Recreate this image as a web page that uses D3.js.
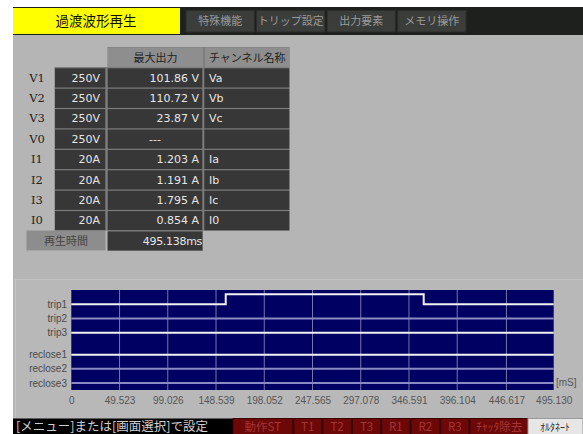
<!DOCTYPE html>
<html><head><meta charset="utf-8">
<script src="https://cdn.jsdelivr.net/npm/d3@7/dist/d3.min.js"></script>
<style>html,body{margin:0;padding:0;background:#fff;overflow:hidden}</style>
</head><body>
<svg id="c" width="583" height="434"></svg>
<script>
// ---- data ----
const channels = ["V1","V2","V3","V0","I1","I2","I3","I0"];
const ranges = ["250V","250V","250V","250V","20A","20A","20A","20A"];
const maxOutputs = ["101.86 V","110.72 V","23.87 V","---","1.203 A","1.191 A","1.795 A","0.854 A"];
const channelNames = ["Va","Vb","Vc","","Ia","Ib","Ic","I0"];
const playbackLabel = "再生時間";
const playbackTime = "495.138ms";
const tableHeaders = ["最大出力","チャンネル名称"];
const title = "過渡波形再生";
const menuButtons = ["特殊機能","トリップ設定","出力要素","メモリ操作"];
const statusText = "[メニュー]または[画面選択]で設定";
const redButtons = ["動作ST","T1","T2","T3","R1","R2","R3","ﾁｬｯﾀ除去"];
const altButton = "ｵﾙﾀﾈｰﾄ";
const xTickValues = [0,49.523,99.026,148.539,198.052,247.565,297.078,346.591,396.104,446.617,495.130];
const xTickLabels = ["0","49.523","99.026","148.539","198.052","247.565","297.078","346.591","396.104","446.617","495.130"];
const xUnit = "[mS]";
const signals = ["trip1","trip2","trip3","reclose1","reclose2","reclose3"];
const trip1 = [[0,0],[158.5,1],[361.7,0],[495.13,0]];
const trip2 = [[0,0],[495.13,0]];
const trip3 = [[0,0],[495.13,0]];
const reclose1 = [[0,0],[495.13,0]];
const reclose2 = [[0,0],[495.13,0]];
const reclose3 = [[0,0],[495.13,0]];
const signalData = [trip1,trip2,trip3,reclose1,reclose2,reclose3];

const svg = d3.select("#c");
const JP = "'Noto Sans CJK JP', sans-serif";
const SANS = "'DejaVu Sans', sans-serif";

// background
svg.append("rect").attr("x",13).attr("y",34).attr("width",570).attr("height",400).attr("fill","#b5b5b5");

// top bar
svg.append("rect").attr("x",13).attr("y",7).attr("width",570).attr("height",28).attr("fill","#1d201d");
svg.append("rect").attr("x",13).attr("y",8).attr("width",167).attr("height",26).attr("fill","#ffff00");
svg.append("text").attr("x",96).attr("y",26).attr("text-anchor","middle").attr("font-family",JP)
  .attr("font-size",13.5).attr("fill","#111").text(title);
const btnX = d3.scaleBand().domain(menuButtons).range([186,466]).paddingInner(0.03);
svg.selectAll("g.mb").data(menuButtons).join("g").attr("class","mb").each(function(d){
  const g=d3.select(this);
  g.append("rect").attr("x",btnX(d)).attr("y",10.5).attr("width",btnX.bandwidth()).attr("height",21.5)
    .attr("fill","#3b3d3b").attr("stroke","#2a2c2a");
  g.append("text").attr("x",btnX(d)+btnX.bandwidth()/2).attr("y",25).attr("text-anchor","middle")
    .attr("font-family",JP).attr("font-size",11).attr("fill","#9a9a9a").text(d);
});

// table
const rowY = d3.scaleBand().domain(channels).range([67.3,67.3+8*20.4]);
const rh = rowY.bandwidth();
// header
svg.append("rect").attr("x",107.5).attr("y",47).attr("width",182).attr("height",20.3).attr("fill","#7f7f7f");
[[108,95],[205,84.5]].forEach((c,i)=>{
  svg.append("rect").attr("x",c[0]).attr("y",47.5).attr("width",c[1]).attr("height",19.5).attr("fill","#8e8e8e");
  svg.append("text").attr("x",c[0]+c[1]/2).attr("y",61.5).attr("text-anchor","middle").attr("font-family",JP)
    .attr("font-size",11).attr("fill","#222").text(tableHeaders[i]);
});
svg.append("rect").attr("x",54.5).attr("y",67).attr("width",235).attr("height",8*rh+0.5).attr("fill","#7d7d7d");
const cols = [[55,50.3],[107.7,94.6],[204.3,85]];
channels.forEach((ch,i)=>{
  const y = rowY(ch);
  cols.forEach(c=>{
    svg.append("rect").attr("x",c[0]).attr("y",y+1).attr("width",c[1]).attr("height",rh-1.2).attr("fill","#373737");
  });
  const ty = y+rh/2+4;
  svg.append("text").attr("x",37).attr("y",ty).attr("text-anchor","middle").attr("font-family","'DejaVu Serif', serif")
    .attr("font-size",11.5).attr("fill","#222").text(ch);
  svg.append("text").attr("x",100).attr("y",ty).attr("text-anchor","end").attr("font-family",SANS)
    .attr("font-size",11).attr("fill","#e6e6e6").text(ranges[i]);
  svg.append("text").attr("x",maxOutputs[i]==="---"?155:199).attr("y",ty).attr("text-anchor",maxOutputs[i]==="---"?"middle":"end").attr("font-family",SANS)
    .attr("font-size",11).attr("fill","#e6e6e6").text(maxOutputs[i]);
  svg.append("text").attr("x",209).attr("y",ty).attr("font-family",SANS)
    .attr("font-size",11).attr("fill","#e6e6e6").text(channelNames[i]);
});
const py = 67.3+8*rh;
svg.append("rect").attr("x",26.5).attr("y",py).attr("width",79).attr("height",rh-0.5).attr("fill","#8d8d8d");
svg.append("rect").attr("x",107.5).attr("y",py).attr("width",95.5).attr("height",rh).attr("fill","#7d7d7d");
svg.append("rect").attr("x",107.7).attr("y",py+1).attr("width",94.6).attr("height",rh-1.5).attr("fill","#373737");
svg.append("text").attr("x",66).attr("y",py+rh/2+4).attr("text-anchor","middle").attr("font-family",JP)
  .attr("font-size",11).attr("fill","#444").text(playbackLabel);
svg.append("text").attr("x",202).attr("y",py+rh/2+4).attr("text-anchor","end").attr("font-family",SANS)
  .attr("font-size",11).attr("fill","#e6e6e6").attr("letter-spacing",-0.3).text(playbackTime);

// chart panel
svg.append("rect").attr("x",15.5).attr("y",279.5).attr("width",570).attr("height",140).attr("fill","#b8b8b8").attr("stroke","#c3c3c3");

const x = d3.scaleLinear().domain([0,495.13]).range([71.3,553.7]);
const plotTop = 290, plotBottom = 390;
svg.append("rect").attr("x",x(0)).attr("y",plotTop).attr("width",x(495.13)-x(0)).attr("height",plotBottom-plotTop).attr("fill","#000062");
svg.selectAll("line.grid").data(xTickValues.slice(1,-1)).join("line").attr("class","grid")
  .attr("x1",d=>x(d)).attr("x2",d=>x(d)).attr("y1",plotTop).attr("y2",plotBottom)
  .attr("stroke","#7676aa").attr("stroke-width",1);

const slot = signals.map((s,i)=> i + (i>=3?0.55:0));
const yBase = d3.scaleLinear().domain([0,5.55]).range([304.3,383]);
const amp = d3.scaleLinear().domain([0,1]).range([0,10]);
const lineColors = ["#f2f2f2","#8a8ac4","#f2f2f2","#f2f2f2","#8a8ac4","#8a8ac4"];
signals.forEach((s,i)=>{
  const base = yBase(slot[i]);
  const line = d3.line().x(d=>x(d[0])).y(d=>base-amp(d[1])).curve(d3.curveStepAfter);
  svg.append("path").attr("d",line(signalData[i])).attr("fill","none").attr("stroke",lineColors[i]).attr("stroke-width",2);
  svg.append("text").attr("x",67).attr("y",base+3.5).attr("text-anchor","end").attr("font-family","'Liberation Sans', sans-serif")
    .attr("font-size",10).attr("fill","#4a4a4a").text(s);
});

const axis = d3.axisBottom(x).tickValues(xTickValues).tickSize(0).tickPadding(0)
  .tickFormat((d,i)=>xTickLabels[i]);
const ag = svg.append("g").attr("transform",`translate(0,${plotBottom})`).call(axis);
ag.select(".domain").remove();
ag.selectAll("text").attr("font-family","'Liberation Sans', sans-serif").attr("font-size",10).attr("fill","#555").attr("dy",null).attr("y",14);
svg.append("text").attr("x",556).attr("y",386).attr("font-family","'Liberation Sans', sans-serif").attr("font-size",10).attr("fill","#555").text(xUnit);

// bottom bar
svg.append("rect").attr("x",13).attr("y",418.5).attr("width",570).attr("height",16).attr("fill","#000");
svg.append("text").attr("x",16).attr("y",430.5).attr("font-family",JP).attr("font-size",12.5).attr("fill","#cfcfcf").text(statusText);
const redW = [59.7,28,28.7,28.3,28.3,28.7,28.3,58.3];
let rx = 233;
redButtons.forEach((b,i)=>{
  svg.append("rect").attr("x",rx).attr("y",418.5).attr("width",redW[i]).attr("height",16).attr("fill","#6c0808").attr("stroke","#3a0000").attr("stroke-width",1);
  svg.append("text").attr("x",rx+redW[i]/2).attr("y",431).attr("text-anchor","middle").attr("font-family",JP)
    .attr("font-size",11.5).attr("fill","#a33636").text(b);
  rx += redW[i]+1;
});
svg.append("rect").attr("x",528).attr("y",418.5).attr("width",55).attr("height",16).attr("fill","#e6e6e6").attr("stroke","#9a9a9a");
svg.append("text").attr("x",555).attr("y",431).attr("text-anchor","middle").attr("font-family",JP)
  .attr("font-size",10).attr("fill","#333").text(altButton);
</script>
</body></html>
